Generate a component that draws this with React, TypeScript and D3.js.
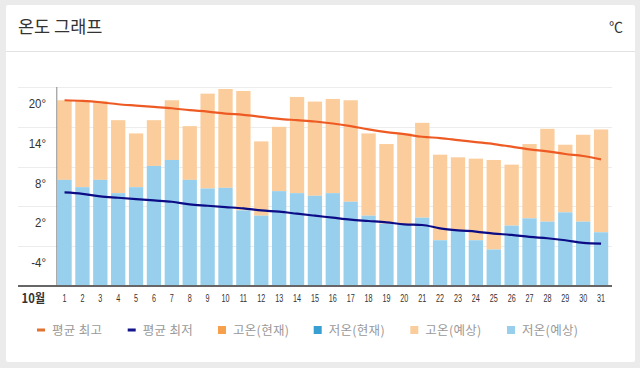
import React from "react";
import * as d3 from "d3";

const days = d3.range(1, 32).map((d) => String(d));
const highForecast = [18.0, 17.9, 17.9, 15.0, 13.0, 15.0, 18.0, 14.1, 19.0, 19.7, 19.4, 11.8, 14.0, 18.5, 17.8, 18.2, 18.0, 13.0, 11.4, 13.0, 14.6, 9.8, 9.4, 9.2, 9.0, 8.3, 11.4, 13.7, 11.3, 12.8, 13.6];
const lowForecast = [6.0, 4.9, 6.0, 4.0, 4.9, 8.1, 9.0, 6.0, 4.7, 4.8, 1.4, 0.6, 4.3, 4.0, 3.6, 4.0, 2.7, 0.6, -0.6, -0.7, 0.3, -3.1, -1.7, -3.1, -4.5, -0.9, 0.2, -0.3, 1.1, -0.3, -1.9];
const avgHigh = [18.0, 17.9, 17.7, 17.4, 17.2, 17.0, 16.8, 16.5, 16.3, 16.0, 15.8, 15.5, 15.2, 15.0, 14.8, 14.5, 14.1, 13.6, 13.2, 12.9, 12.5, 12.3, 12.0, 11.7, 11.4, 11.0, 10.6, 10.3, 9.9, 9.6, 9.1];
const avgLow = [4.1, 3.9, 3.5, 3.3, 3.1, 2.9, 2.7, 2.3, 2.1, 1.9, 1.7, 1.4, 1.2, 0.9, 0.6, 0.3, 0.0, -0.2, -0.4, -0.7, -0.8, -1.3, -1.6, -1.8, -2.1, -2.3, -2.6, -2.8, -3.1, -3.5, -3.6];
const yTicks = [20, 14, 8, 2, -4];
const yDomain = [-10, 20];
const monthLabel = "10월";
const title = "온도 그래프";
const unitLabel = "℃";
const legendLabels = ["평균 최고", "평균 최저", "고온(현재)", "저온(현재)", "고온(예상)", "저온(예상)"];
const legendKinds = ["line", "line", "rect", "rect", "rect", "rect"];
const legendColors = ["#e2722f", "#14148c", "#f6a04b", "#389fd2", "#fbcd9c", "#97cfec"];

// layout (pixel) constants for the legend markers
const legendX = [37, 127.7, 218, 313.7, 410.3, 507];

const KFONT = "'Noto Sans CJK KR', 'Noto Sans', sans-serif";
const NFONT = "'Liberation Sans', Arial, sans-serif";

export default function App() {
  const W = 640, H = 368;
  const plotLeft = 55.6, plotRight = 610, gridLeft = 18, gridRight = 612;
  const top = 87, bottom = 286;

  const x = d3.scaleBand<string>().domain(days).range([plotLeft, plotRight]).paddingInner(0.2).paddingOuter(0.1);
  const y = d3.scaleLinear().domain(yDomain).range([bottom, top]);
  const cx = (i: number) => (x(days[i]) as number) + x.bandwidth() / 2;

  const lineHigh = d3.line<number>().x((_, i) => cx(i)).y((d) => y(d)).curve(d3.curveMonotoneX)(avgHigh) || "";
  const lineLow = d3.line<number>().x((_, i) => cx(i)).y((d) => y(d)).curve(d3.curveMonotoneX)(avgLow) || "";

  return (
    <svg width={W} height={H} style={{ position: "absolute", left: 0, top: 0, display: "block" }}>
      <rect x={0} y={0} width={W} height={H} fill="#ebebeb" />
      <rect x={6} y={5} width={629} height={357} fill="#ffffff" rx={2} />
      <text x={18} y={33} fontFamily={KFONT} fontSize={17.5} fill="#333">{title}</text>
      <text x={623} y={32} textAnchor="end" fontFamily={KFONT} fontSize={14} fill="#333">{unitLabel}</text>
      <line x1={6} x2={635} y1={51.5} y2={51.5} stroke="#e2e2e2" strokeWidth={1} />

      {[...yTicks, yDomain[0]].map((t) => (
        <line key={"g" + t} x1={gridLeft} x2={gridRight} y1={Math.round(y(t)) + 0.5} y2={Math.round(y(t)) + 0.5} stroke="#ececec" />
      ))}

      {days.map((d, i) => (
        <g key={"b" + d}>
          <rect x={x(d)} width={x.bandwidth()} y={y(highForecast[i])} height={y(lowForecast[i]) - y(highForecast[i])} fill="#fbcd9c" />
          <rect x={x(d)} width={x.bandwidth()} y={y(lowForecast[i])} height={bottom - y(lowForecast[i])} fill="#97cfec" />
        </g>
      ))}

      <path d={lineHigh} fill="none" stroke="#ee5a24" strokeWidth={2.2} />
      <path d={lineLow} fill="none" stroke="#0c0c86" strokeWidth={2.2} />

      <line x1={56.8} x2={56.8} y1={top} y2={bottom} stroke="#888" strokeWidth={1} />
      <line x1={gridLeft} x2={gridRight} y1={bottom} y2={bottom} stroke="#666" strokeWidth={2} />

      {yTicks.map((t) => (
        <text key={"yl" + t} transform={`translate(46,${y(t) + 21}) scale(0.85,1)`} textAnchor="end" fontFamily={NFONT} fontSize={13.5} fill="#333">
          {t}°
        </text>
      ))}

      <text transform="translate(21.5,303) scale(0.9,1)" fontFamily={KFONT} fontSize={12.5} fontWeight={700} fill="#333">{monthLabel}</text>
      {days.map((d, i) => (
        <text key={"xl" + d} transform={`translate(${cx(i)},302) scale(0.72,1)`} textAnchor="middle" fontFamily={NFONT} fontSize={10} fill="#333">
          {d}
        </text>
      ))}

      {legendLabels.map((label, i) => (
        <g key={label}>
          {legendKinds[i] === "line" ? (
            <rect x={legendX[i]} y={328.5} width={8} height={3} fill={legendColors[i]} />
          ) : (
            <rect x={legendX[i]} y={326} width={8} height={8} fill={legendColors[i]} />
          )}
          <text x={legendX[i] + 15} y={334.5} fontFamily={KFONT} fontSize={12.5} letterSpacing={0.3} fill="#999">{label}</text>
        </g>
      ))}
    </svg>
  );
}
